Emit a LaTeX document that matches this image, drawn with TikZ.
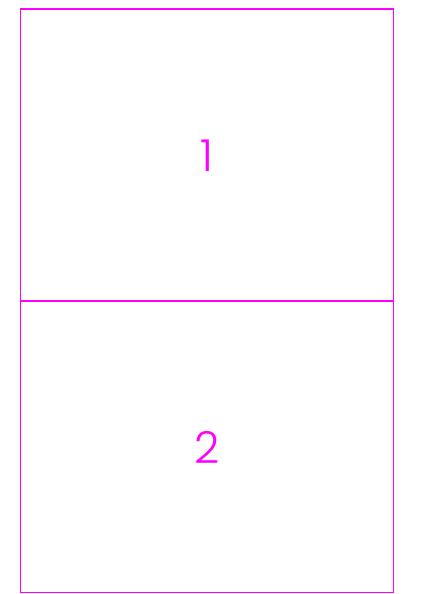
\documentclass[tikz,border=0pt]{standalone}
\usepackage{fontspec}
\newfontfamily\thinfont{Poppins Light}
\definecolor{mag}{RGB}{255,0,255}
\begin{document}
\begin{tikzpicture}[x=1pt,y=-1pt,
  cell/.style={draw=mag,line width=1.8pt},
  lbl/.style={text=mag,font=\thinfont\fontsize{44}{44}\selectfont,inner sep=0pt,anchor=base}]
\useasboundingbox (0,0) rectangle (428,594);
\draw[cell] (20.5,9) rectangle (393.5,592.5);
\draw[cell] (20.5,301) coordinate (ml) -- (393.5,301) coordinate (mr);
\node[lbl] (n1) at (207,171) {1};
\node[lbl] (n2) at (207,463) {2};
\end{tikzpicture}
\end{document}
